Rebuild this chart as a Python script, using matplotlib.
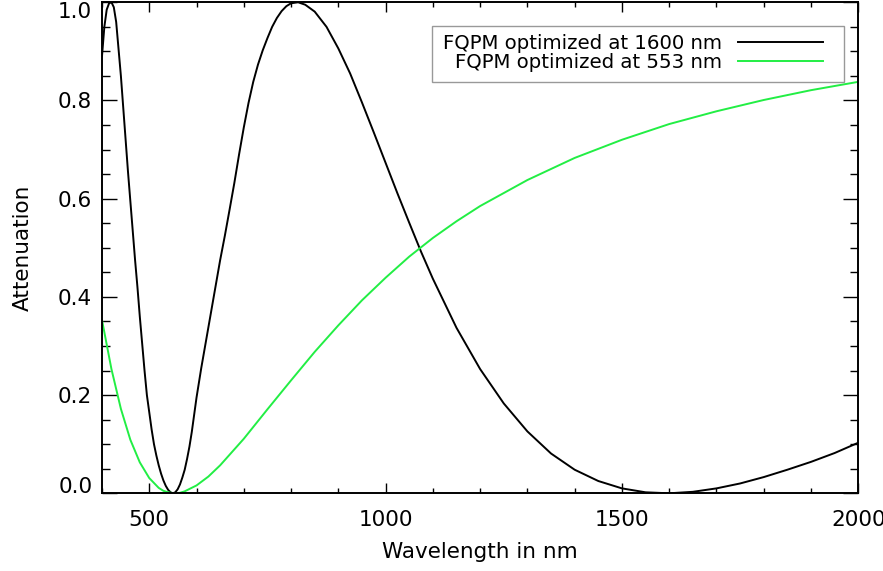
#!/usr/bin/env python
# -*- coding: utf-8 -*-

# FQPM attenuation vs wavelength, two masks

import matplotlib
matplotlib.use("Agg")
import matplotlib.pyplot as plt
from matplotlib.ticker import MultipleLocator, FormatStrFormatter
from matplotlib.patches import Rectangle


# -- values
wl_1600 = [400, 405, 410, 415, 420, 425, 430, 435, 440, 445, 450, 455, 460,
           465, 470, 475, 480, 485, 490, 495, 500, 505, 510, 515, 520, 525,
           530, 535, 540, 545, 550, 555, 560, 565, 570, 575, 580, 585, 590,
           595, 600, 610, 620, 630, 640, 650, 660, 670, 680, 690, 700, 710,
           720, 730, 740, 750, 760, 770, 780, 790, 800, 815, 830, 850, 875,
           900, 925, 950, 975, 1000, 1025, 1050, 1075, 1100, 1150, 1200,
           1250, 1300, 1350, 1400, 1450, 1500, 1550, 1600, 1650, 1700, 1750,
           1800, 1850, 1900, 1950, 2000]
att_1600 = [0.89, 0.95, 0.985, 0.998, 1.0, 0.99, 0.96, 0.905, 0.85, 0.785,
            0.72, 0.655, 0.595, 0.535, 0.475, 0.42, 0.36, 0.305, 0.25, 0.2,
            0.165, 0.13, 0.1, 0.077, 0.057, 0.04, 0.026, 0.015, 0.007, 0.002,
            0.0, 0.002, 0.008, 0.018, 0.032, 0.048, 0.07, 0.095, 0.125, 0.16,
            0.195, 0.255, 0.31, 0.365, 0.42, 0.475, 0.525, 0.578, 0.632,
            0.69, 0.745, 0.795, 0.838, 0.873, 0.902, 0.927, 0.95, 0.968,
            0.982, 0.992, 0.998, 1.0, 0.995, 0.981, 0.95, 0.906, 0.855, 0.796,
            0.735, 0.673, 0.611, 0.551, 0.492, 0.437, 0.337, 0.253, 0.183,
            0.126, 0.081, 0.048, 0.025, 0.01, 0.002, 0.0, 0.003, 0.01, 0.02,
            0.033, 0.048, 0.064, 0.082, 0.103]

wl_553 = [400, 420, 440, 460, 480, 500, 520, 530, 540, 553, 565, 575, 600,
          625, 650, 700, 750, 800, 850, 900, 950, 1000, 1050, 1100, 1150,
          1200, 1300, 1400, 1500, 1600, 1700, 1800, 1900, 2000]
att_553 = [0.353, 0.253, 0.172, 0.109, 0.063, 0.031, 0.011, 0.005, 0.002,
           0.0, 0.001, 0.004, 0.016, 0.034, 0.057, 0.111, 0.171, 0.230,
           0.288, 0.342, 0.393, 0.439, 0.482, 0.520, 0.554, 0.585, 0.638,
           0.683, 0.720, 0.752, 0.778, 0.801, 0.821, 0.838]

labels = ["FQPM optimized at 1600 nm", "FQPM optimized at 553 nm"]
green = "#22ee44"

fs = 15.5

fig = plt.figure(figsize=(8.83, 5.71), dpi=100)
ax = fig.add_axes([0.1155, 0.1361, 0.8565, 0.8599])

ax.plot(wl_1600, att_1600, color="black", lw=1.4, label=labels[0])
ax.plot(wl_553, att_553, color=green, lw=1.4, label=labels[1])

ax.set_xlim(400, 2000)
ax.set_ylim(0, 1)

ax.xaxis.set_major_locator(MultipleLocator(500))
ax.xaxis.set_minor_locator(MultipleLocator(100))
ax.yaxis.set_major_locator(MultipleLocator(0.2))
ax.yaxis.set_minor_locator(MultipleLocator(0.05))
ax.yaxis.set_major_formatter(FormatStrFormatter("%.1f"))

for sp in ax.spines.values():
    sp.set_linewidth(1.4)

ax.tick_params(which="both", direction="in", top=True, right=True,
               width=1.0, labelsize=fs)
ax.tick_params(axis="x", which="major", length=7.2, pad=12)
ax.tick_params(axis="x", which="minor", length=3.6)
ax.tick_params(axis="y", which="major", length=10.8, pad=7)
ax.tick_params(axis="y", which="minor", length=5.8)

ax.set_xlabel("Wavelength in nm", fontsize=fs, labelpad=9)
ax.set_ylabel("Attenuation", fontsize=fs, labelpad=18)

# -- legend, text right-aligned in front of the line samples
leg = ax.legend(loc="upper right", bbox_to_anchor=(0.9533, 0.9346),
                borderaxespad=0, borderpad=0, frameon=False,
                markerfirst=False, handlelength=4.3, handletextpad=0.8,
                labelspacing=0, fontsize=14.2)
ax.add_patch(Rectangle((0.4363, 0.8377), 0.5448, 0.114,
                       transform=ax.transAxes, fill=False,
                       edgecolor="#999999", lw=1.0))

# -- end labels pulled inside the axis range
fig.canvas.draw()
for lab in ax.get_yticklabels():
    txt = lab.get_text()
    if txt == "0.0":
        lab.set_va("baseline")
    elif txt == "1.0":
        lab.set_va("top")
    else:
        lab.set_va("center_baseline")

fig.savefig("out.png", dpi=100)
